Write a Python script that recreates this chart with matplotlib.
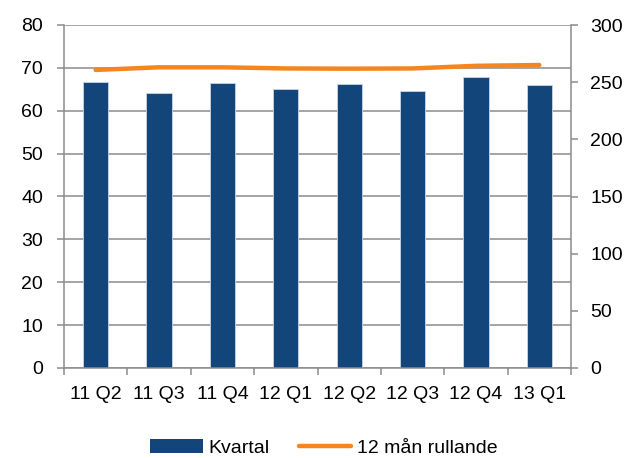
import matplotlib
matplotlib.use("Agg")
import matplotlib.pyplot as plt
from matplotlib.patches import Patch
from matplotlib.lines import Line2D
from matplotlib.ticker import MultipleLocator, FixedLocator

plt.rcParams['font.family'] = ['Liberation Sans', 'DejaVu Sans']

categories = ["11 Q2", "11 Q3", "11 Q4", "12 Q1", "12 Q2", "12 Q3", "12 Q4", "13 Q1"]
kvartal = [66.8, 64.2, 66.5, 65.0, 66.3, 64.6, 67.9, 65.9]
rullande = [260.7, 263.0, 263.0, 262.0, 261.8, 262.0, 264.3, 265.0]

BAR = "#12467A"
LINE = "#F5861F"
GRID = "#8C8C8C"
FS = 14

fig = plt.figure(figsize=(6.28, 4.58), dpi=100)
ax = fig.add_axes([64 / 628, 1 - 368 / 458, (571 - 64) / 628, (368 - 25) / 458])
ax2 = ax.twinx()

x = list(range(len(categories)))
ax.bar(x, kvartal, width=0.4, color=BAR, edgecolor="#C9D5E4", linewidth=0.6, zorder=2)
ax2.plot(x, rullande, color=LINE, linewidth=3.2, solid_capstyle="round", zorder=3)

ax.set_xlim(-0.5, len(categories) - 0.5)
ax.set_ylim(0, 80)
ax2.set_ylim(0, 300)
ax.yaxis.set_major_locator(MultipleLocator(10))
ax2.yaxis.set_major_locator(MultipleLocator(50))

ax.set_xticks(x)
ax.set_xticklabels(categories)
ax.xaxis.set_minor_locator(FixedLocator([i - 0.5 for i in range(len(categories) + 1)]))
ax.tick_params(axis="x", which="major", length=0, pad=13, labelsize=FS)
ax.tick_params(axis="x", which="minor", length=5, width=1.1, color=GRID, direction="out")
ax.tick_params(axis="y", length=5, width=1.1, color=GRID, pad=10, labelsize=FS)
ax2.tick_params(axis="y", length=5, width=1.1, color=GRID, pad=9, labelsize=FS)

ax.grid(axis="y", color=GRID, linewidth=1.1, zorder=0)
ax.set_axisbelow(True)

for a in (ax, ax2):
    a.spines["top"].set_visible(False)
    for s in ("left", "right", "bottom"):
        a.spines[s].set_color(GRID)
        a.spines[s].set_linewidth(1.1)
ax.spines["right"].set_visible(False)
ax2.spines["left"].set_visible(False)
ax2.spines["bottom"].set_visible(False)
ax.set_zorder(ax2.get_zorder() - 1)
ax2.patch.set_visible(False)

handles = [
    Patch(facecolor=BAR, edgecolor="none", label="Kvartal"),
    Line2D([0], [0], color=LINE, linewidth=3.2, solid_capstyle="round", label="12 mån rullande"),
]
fig.legend(handles=handles, loc="center", bbox_to_anchor=(324 / 628, 1 - 448 / 458),
           ncol=2, frameon=False, fontsize=FS, handlelength=2.7, handletextpad=0.3,
           columnspacing=1.5, borderpad=0)

fig.savefig("out.png", dpi=100)
